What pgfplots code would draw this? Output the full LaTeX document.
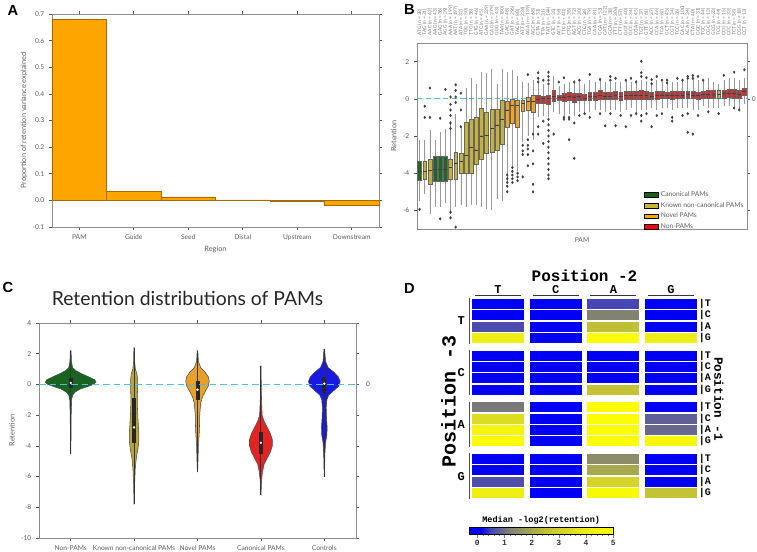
\documentclass[border=0pt]{standalone}
\usepackage{pgfplots}
\pgfplotsset{compat=1.18}
\usepgfplotslibrary{statistics}
\usepackage{fontspec}
\setmainfont{Lato}
\newfontfamily\cour{Liberation Mono}
\newfontfamily\arial{Liberation Sans}
\definecolor{spine}{RGB}{140,140,140}
\definecolor{txt}{RGB}{95,95,95}
\definecolor{barorange}{RGB}{255,165,0}
\definecolor{cgreen}{RGB}{32,102,40}
\definecolor{colive}{RGB}{196,178,62}
\definecolor{corange}{RGB}{238,162,38}
\definecolor{cred}{RGB}{212,44,44}
\definecolor{lgreen}{RGB}{20,100,30}
\definecolor{lolive}{RGB}{200,180,50}
\definecolor{lorange}{RGB}{255,165,0}
\definecolor{lred}{RGB}{255,0,0}
\definecolor{zeroline}{RGB}{80,190,230}
\definecolor{vgreen}{RGB}{25,100,32}
\definecolor{volive}{RGB}{185,165,55}
\definecolor{vorange}{RGB}{232,160,40}
\definecolor{vred}{RGB}{228,35,35}
\definecolor{vblue}{RGB}{25,25,228}
\pgfdeclareplotmark{cell}{\pgfpathrectangle{\pgfpoint{-19.5pt}{-3.75pt}}{\pgfpoint{39pt}{7.5pt}}\pgfusepathqfill}
\pgfplotsset{
  panel/.style={scale only axis, anchor=south west, clip=false,
    axis line style={spine, line width=0.6pt},
    tick style={black!65, line width=0.4pt}, tick align=outside,
    major tick length=2.2pt,
    tick label style={font=\fontsize{5}{6}\selectfont, text=txt},
    label style={font=\fontsize{5.5}{6.5}\selectfont, text=txt},
    /pgf/number format/assume math mode=true},
}
\newcommand{\bx}[7]{\addplot[forget plot, fill=#7, draw=black!60, line width=0.3pt,
  boxplot/draw direction=y,
  boxplot prepared={draw position=#1, lower whisker=#2, lower quartile=#3, median=#4,
  upper quartile=#5, upper whisker=#6, box extend=0.75, whisker extend=0},
  boxplot/every whisker/.style={black!40, line width=0.45pt},
  boxplot/every median/.style={black!75, line width=0.4pt}] coordinates {};}
\newcommand{\dfont}[1]{\cour\bfseries\fontsize{#1}{#1}\selectfont}
\begin{document}
\begin{tikzpicture}
\useasboundingbox (0,0) rectangle (567.75pt,414pt);
% ---------------- A ----------------
\begin{axis}[panel, at={(39pt,243.75pt)}, width=245.25pt, height=159.75pt,
  xmin=-0.5, xmax=5.5, ymin=-0.1, ymax=0.7,
  ytick={-0.1,0,0.1,0.2,0.3,0.4,0.5,0.6,0.7},
  yticklabel style={/pgf/number format/.cd, fixed, fixed zerofill, precision=1},
  xtick={0,...,5}, xticklabels={PAM,Guide,Seed,Distal,Upstream,Downstream},
  xlabel={Region}, ylabel={Proportion of retention variance explained},
  xlabel style={yshift=3pt}, ylabel style={yshift=-3pt}]
\addplot[ybar, bar width=1, fill=barorange, draw=black!35!barorange, line width=0.3pt]
  coordinates {(0,0.68)(1,0.035)(2,0.013)(3,0.002)(4,-0.002)(5,-0.017)};
\end{axis}
% ---------------- B ----------------
\begin{axis}[panel, at={(312.75pt,242.25pt)}, width=247.5pt, height=139.5pt,
  xmin=-0.5, xmax=63.5, ymin=-7, ymax=3, ytick={-6,-4,-2,0,2},
  xtick={0,...,63}, xticklabel pos=upper, major x tick style={draw=none},
  xticklabel style={rotate=90, anchor=west, font=\fontsize{3.6}{4}\selectfont, text=txt!85},
  xticklabels={ATG (n = 38), TAG (n = 21), AAC (n = 42), AAG (n = 43), GAG (n = 36), AGG (n = 39), AAA (n = 199), AAT (n = 197), ATA (n = 32), TGG (n = 50), TTG (n = 38), GTG (n = 46), ATC (n = 45), GAA (n = 239), CAG (n = 279), GGG (n = 43), TAA (n = 180), GAC (n = 48), GAT (n = 296), TAC (n = 80), ATT (n = 236), AGA (n = 139), AGC (n = 68), GTA (n = 31), TTA (n = 31), TAT (n = 144), GTC (n = 35), ACT (n = 56), TTC (n = 40), CTG (n = 38), AGT (n = 72), ACG (n = 30), CTC (n = 26), TGA (n = 79), CAA (n = 81), GGA (n = 53), CAT (n = 122), GCA (n = 38), TTT (n = 306), CTT (n = 57), GGT (n = 40), GCC (n = 34), CGA (n = 45), TGT (n = 37), GTT (n = 61), ACC (n = 27), CCA (n = 46), TCA (n = 62), GCT (n = 45), CGT (n = 34), TCC (n = 36), CAC (n = 100), ACA (n = 34), CTA (n = 40), GGC (n = 31), TGC (n = 44), CGC (n = 13), GCG (n = 33), TCG (n = 44), CCG (n = 15), CCC (n = 33), TCT (n = 58), CGG (n = 18), CCT (n = 13)},
  ylabel={Retention}, ylabel style={yshift=-2pt},
  legend image code/.code={\fill[#1] (0pt,-1.8pt) rectangle (10pt,1.8pt);},
  legend style={draw=none, fill=none, at={(0.676,0.231)}, anchor=north west,
    font=\fontsize{5}{6}\selectfont, text=txt, row sep=-1.2pt},
  legend cell align=left]
\addplot[forget plot, zeroline, line width=1pt, dash pattern=on 4pt off 2.5pt] coordinates {(-0.5,0)(63.5,0)};
\bx{0}{-5.5}{-4.37}{-3.9}{-3.36}{-2.2}{cgreen}
\bx{1}{-5.1}{-4.3}{-3.9}{-3.36}{-2.2}{colive}
\bx{2}{-6.2}{-4.6}{-3.86}{-3.24}{-1.67}{colive}
\bx{3}{-5.8}{-4.45}{-3.8}{-3.1}{-2.2}{cgreen}
\bx{4}{-5.8}{-4.45}{-3.8}{-3.1}{-1.8}{cgreen}
\bx{5}{-5.6}{-4.45}{-3.8}{-3.1}{-1.6}{cgreen}
\bx{6}{-6.1}{-4.3}{-3.7}{-3.24}{-1.2}{colive}
\bx{7}{-5.8}{-4.3}{-3.45}{-2.85}{-0.8}{colive}
\bx{8}{-5.7}{-4.0}{-3.35}{-2.95}{-1.5}{colive}
\bx{9}{-5.8}{-4.0}{-3.05}{-1.25}{0.6}{colive}
\bx{10}{-5.7}{-4.0}{-2.6}{-1.1}{1.1}{colive}
\bx{11}{-5.7}{-3.5}{-2.75}{-1.0}{0.8}{colive}
\bx{12}{-5.8}{-3.25}{-2.0}{-0.5}{1.45}{colive}
\bx{13}{-5.9}{-2.9}{-1.95}{-0.7}{1.4}{colive}
\bx{14}{-6.0}{-2.85}{-1.6}{-0.55}{1.6}{colive}
\bx{15}{-5.4}{-2.75}{-1.4}{-0.55}{0.8}{colive}
\bx{16}{-5.5}{-2.45}{-1.1}{-0.1}{1.6}{colive}
\bx{17}{-4.5}{-1.55}{-0.6}{-0.15}{1.45}{corange}
\bx{18}{-3.7}{-1.3}{-0.35}{0.0}{1.55}{corange}
\bx{19}{-3.9}{-1.55}{-0.35}{-0.05}{1.25}{corange}
\bx{20}{-2.3}{-0.65}{-0.25}{-0.05}{0.9}{corange}
\bx{21}{-2.0}{-0.6}{-0.15}{0.07}{0.85}{corange}
\bx{22}{-2.2}{-0.7}{-0.12}{0.2}{1.0}{corange}
\bx{23}{-1.0}{-0.25}{0.0}{0.2}{1.0}{cred}
\bx{24}{-0.9}{-0.25}{0.05}{0.15}{0.8}{cred}
\bx{25}{-1.0}{-0.3}{0.05}{0.2}{0.7}{cred}
\bx{26}{-0.7}{-0.15}{0.15}{0.45}{1.2}{cred}
\bx{27}{-0.8}{-0.1}{0.1}{0.2}{0.7}{cred}
\bx{28}{-0.9}{-0.15}{0.1}{0.3}{0.8}{cred}
\bx{29}{-0.8}{-0.1}{0.15}{0.35}{0.9}{cred}
\bx{30}{-0.9}{-0.2}{0.1}{0.3}{0.9}{cred}
\bx{31}{-0.7}{-0.1}{0.12}{0.3}{1.0}{cred}
\bx{32}{-0.7}{-0.1}{0.05}{0.25}{0.8}{cred}
\bx{33}{-0.7}{-0.05}{0.15}{0.35}{1.0}{cred}
\bx{34}{-0.6}{-0.05}{0.15}{0.35}{0.9}{cred}
\bx{35}{-0.6}{0.0}{0.2}{0.45}{1.0}{cred}
\bx{36}{-0.7}{0.0}{0.15}{0.35}{0.9}{cred}
\bx{37}{-0.6}{0.0}{0.15}{0.35}{0.9}{cred}
\bx{38}{-0.6}{0.0}{0.2}{0.4}{0.9}{cred}
\bx{39}{-0.7}{-0.05}{0.15}{0.35}{0.9}{cred}
\bx{40}{-0.6}{0.0}{0.2}{0.4}{1.0}{cred}
\bx{41}{-0.5}{0.0}{0.2}{0.4}{0.9}{cred}
\bx{42}{-0.7}{0.0}{0.2}{0.4}{1.0}{cred}
\bx{43}{-0.6}{0.0}{0.2}{0.45}{1.0}{cred}
\bx{44}{-0.6}{0.0}{0.2}{0.4}{0.95}{cred}
\bx{45}{-0.5}{0.0}{0.15}{0.35}{0.9}{cred}
\bx{46}{-0.6}{0.0}{0.2}{0.4}{1.0}{cred}
\bx{47}{-0.5}{0.05}{0.2}{0.4}{0.9}{cred}
\bx{48}{-0.5}{0.05}{0.2}{0.35}{0.9}{cred}
\bx{49}{-0.6}{0.0}{0.2}{0.4}{0.9}{cred}
\bx{50}{-0.5}{0.05}{0.2}{0.4}{0.9}{cred}
\bx{51}{-0.5}{0.05}{0.2}{0.4}{0.95}{cred}
\bx{52}{-0.5}{0.05}{0.25}{0.4}{1.0}{cred}
\bx{53}{-0.6}{0.05}{0.2}{0.4}{1.1}{cred}
\bx{54}{-0.6}{0.0}{0.2}{0.35}{1.0}{cred}
\bx{55}{-0.4}{0.05}{0.25}{0.4}{1.0}{cred}
\bx{56}{-0.5}{0.05}{0.25}{0.45}{1.1}{cred}
\bx{57}{-0.5}{0.05}{0.25}{0.45}{0.9}{cred}
\bx{58}{-0.5}{0.05}{0.25}{0.45}{0.8}{colive}
\bx{59}{-0.4}{0.05}{0.3}{0.45}{1.0}{cred}
\bx{60}{-0.4}{0.1}{0.3}{0.5}{1.1}{cred}
\bx{61}{-0.5}{0.05}{0.3}{0.5}{1.1}{cred}
\bx{62}{-0.6}{0.05}{0.25}{0.45}{1.0}{cred}
\bx{63}{-0.3}{0.2}{0.4}{0.55}{1.1}{cred}
\addplot[forget plot, only marks, mark=diamond*, mark size=0.9pt, black!75] coordinates {
(0,-5.94)(1,-0.4)(1,-1.0)(2,0.58)(2,-1.0)(4,-1.05)(4,-6.45)(5,0.5)
(6,0.1)(6,-0.3)(6,-0.6)(6,-0.9)(6,-1.3)(6,-1.6)(6,-6.1)(6,-6.4)
(7,0.75)(7,0.45)(7,0.1)(7,-0.2)(7,-6.9)(8,0.3)(8,-0.6)(8,-1.5)
(17,-4.1)(17,-4.3)(17,-4.5)(17,-4.7)(17,-5.0)
(18,-3.7)(18,-3.9)(18,-4.1)(18,-4.3)(18,-4.5)
(19,-4.0)(19,-4.2)(19,-4.4)
(20,-2.5)(20,-2.8)(20,-3.0)(20,-4.2)
(21,-2.2)(21,-2.5)(21,-2.7)(21,-3.0)(21,-3.6)(21,1.3)
(22,-1.9)(22,-2.8)(22,-3.5)(22,-4.6)(22,-5.0)
(23,1.4)(23,1.1)(23,0.9)(23,-1.5)(23,-1.9)
(24,1.0)(24,-1.2)(24,-2.4)
(25,1.43)(25,1.2)(25,1.0)(25,0.8)(25,-1.1)(25,-1.4)(25,-1.7)(25,-2.0)(25,-2.3)(25,-2.6)(25,-2.9)(25,-3.2)(25,-3.5)(25,-3.8)(25,-4.1)(25,-4.3)
(26,-1.9)(27,0.9)(28,1.13)(28,-1.0)(28,-1.1)(29,-1.0)(29,-1.1)(29,-2.2)
(30,0.9)(30,-1.3)(30,-3.2)(31,1.0)(31,-0.9)(32,-0.8)(33,1.31)(33,-1.0)
(35,1.04)(35,-0.8)(36,-1.45)(37,1.2)(37,1.0)(37,-0.8)(38,1.1)(38,-1.45)
(39,-0.9)(40,1.0)(40,-1.5)(41,1.1)(41,-0.9)(42,0.9)(42,-0.8)
(43,2.02)(43,1.4)(43,1.2)(43,-1.2)(43,-0.9)(44,1.13)(44,-0.8)
(45,1.03)(45,0.8)(45,-1.5)(46,1.2)(46,-0.9)(47,1.0)(47,-0.8)(48,1.0)(48,0.85)
(49,-1.2)(49,-1.0)(50,1.1)(51,1.0)(51,-0.9)(52,1.2)(52,1.1)(52,-0.8)(52,-1.8)
(53,1.25)(53,1.1)(53,-1.9)(54,1.2)(54,-0.9)(55,1.0)(56,-0.7)(58,-0.8)
(59,1.26)(61,1.43)(61,-0.5)(62,-0.6)(63,1.56)};
\node[font=\fontsize{5}{6}\selectfont, text=txt, anchor=north] at (rel axis cs:0.5,0) [yshift=-3pt] {PAM};
\node[font=\fontsize{5}{6}\selectfont, text=txt, anchor=west, inner sep=0pt] at (axis cs:63.5,0) [xshift=3.5pt] {0};
\addlegendimage{fill=lgreen}\addlegendentry{Canonical PAMs}
\addlegendimage{fill=lolive}\addlegendentry{Known non-canonical PAMs}
\addlegendimage{fill=lorange}\addlegendentry{Novel PAMs}
\addlegendimage{fill=lred}\addlegendentry{Non-PAMs}
\end{axis}
% ---------------- C ----------------
\begin{axis}[panel, at={(29.25pt,10.5pt)}, width=237.75pt, height=161.25pt,
  xmin=-0.5, xmax=4.5, ymin=-10, ymax=4, ytick={-10,-8,-6,-4,-2,0,2,4},
  xtick={0,...,4}, xticklabels={Non-PAMs, Known non-canonical PAMs, Novel PAMs, Canonical PAMs, Controls},
  ylabel={Retention}, ylabel style={yshift=-2pt}]
\addplot[fill=vgreen, draw=black!70, line width=0.4pt] coordinates {
(0.002,-4.5)(0.005,-3.5)(0.008,-2)(0.015,-1)(0.03,-0.7)(0.07,-0.5)(0.15,-0.3)(0.26,-0.15)(0.36,0)(0.40,0.15)(0.38,0.3)(0.28,0.5)(0.17,0.7)(0.08,0.9)(0.03,1.1)(0.012,1.5)(0.006,2.2)
(-0.006,2.2)(-0.012,1.5)(-0.03,1.1)(-0.08,0.9)(-0.17,0.7)(-0.28,0.5)(-0.38,0.3)(-0.40,0.15)(-0.36,0)(-0.26,-0.15)(-0.15,-0.3)(-0.07,-0.5)(-0.03,-0.7)(-0.015,-1)(-0.008,-2)(-0.005,-3.5)(-0.002,-4.5)} -- cycle;
\addplot[fill=volive, draw=black!70, line width=0.4pt] coordinates {
(1.002,-7.8)(1.008,-6.5)(1.018,-5.5)(1.035,-4.8)(1.06,-4.2)(1.075,-3.7)(1.075,-3.2)(1.065,-2.5)(1.055,-1.8)(1.05,-1.0)(1.055,-0.3)(1.055,0.3)(1.045,0.7)(1.02,1.0)(1.008,1.5)(1.004,2.4)
(0.996,2.4)(0.992,1.5)(0.98,1.0)(0.955,0.7)(0.945,0.3)(0.945,-0.3)(0.95,-1.0)(0.945,-1.8)(0.935,-2.5)(0.925,-3.2)(0.925,-3.7)(0.94,-4.2)(0.965,-4.8)(0.982,-5.5)(0.992,-6.5)(0.998,-7.8)} -- cycle;
\addplot[fill=vorange, draw=black!70, line width=0.4pt] coordinates {
(2.002,-5.7)(2.008,-5)(2.015,-4)(2.03,-3)(2.035,-2)(2.05,-1.2)(2.08,-0.8)(2.13,-0.4)(2.17,-0.1)(2.185,0.2)(2.17,0.5)(2.12,0.8)(2.05,1.1)(2.015,1.5)(2.005,2.2)
(1.995,2.2)(1.985,1.5)(1.95,1.1)(1.88,0.8)(1.83,0.5)(1.815,0.2)(1.83,-0.1)(1.87,-0.4)(1.92,-0.8)(1.95,-1.2)(1.965,-2)(1.97,-3)(1.985,-4)(1.992,-5)(1.998,-5.7)} -- cycle;
\addplot[fill=vred, draw=black!70, line width=0.4pt] coordinates {
(3.002,-7.2)(3.01,-6.3)(3.025,-5.7)(3.05,-5.2)(3.10,-4.8)(3.15,-4.4)(3.18,-4.0)(3.18,-3.6)(3.15,-3.2)(3.10,-2.8)(3.05,-2.4)(3.02,-2.0)(3.01,-1.0)(3.006,0)(3.003,1.2)
(2.997,1.2)(2.994,0)(2.99,-1)(2.98,-2)(2.95,-2.4)(2.90,-2.8)(2.85,-3.2)(2.82,-3.6)(2.82,-4.0)(2.85,-4.4)(2.90,-4.8)(2.95,-5.2)(2.975,-5.7)(2.99,-6.3)(2.998,-7.2)} -- cycle;
\addplot[fill=vblue, draw=black!70, line width=0.4pt] coordinates {
(4.002,-6)(4.01,-4.5)(4.02,-3.8)(4.04,-3.3)(4.045,-2.8)(4.035,-2.2)(4.03,-1.5)(4.04,-1.0)(4.07,-0.7)(4.15,-0.4)(4.23,-0.1)(4.25,0.2)(4.22,0.5)(4.15,0.8)(4.06,1.1)(4.02,1.5)(4.005,2.3)
(3.995,2.3)(3.98,1.5)(3.94,1.1)(3.85,0.8)(3.78,0.5)(3.75,0.2)(3.77,-0.1)(3.85,-0.4)(3.93,-0.7)(3.96,-1.0)(3.97,-1.5)(3.965,-2.2)(3.955,-2.8)(3.96,-3.3)(3.98,-3.8)(3.99,-4.5)(3.998,-6)} -- cycle;
\addplot[black!80, line width=0.7pt] coordinates {(0,-4.5)(0,2.2)};
\addplot[black!80, line width=0.7pt] coordinates {(1,-7.8)(1,2.4)};
\addplot[black!80, line width=0.7pt] coordinates {(2,-5.7)(2,2.2)};
\addplot[black!80, line width=0.7pt] coordinates {(3,-7.2)(3,1.2)};
\addplot[black!80, line width=0.7pt] coordinates {(4,-6.0)(4,2.3)};
\addplot[black!85, line width=3pt] coordinates {(0,-0.25)(0,0.4)};
\addplot[black!85, line width=3pt] coordinates {(1,-3.8)(1,-0.9)};
\addplot[black!85, line width=3pt] coordinates {(2,-1.0)(2,0.2)};
\addplot[black!85, line width=3pt] coordinates {(3,-4.5)(3,-3.1)};
\addplot[black!85, line width=3pt] coordinates {(4,-0.55)(4,0.5)};
\addplot[only marks, mark=*, mark size=0.7pt, white] coordinates {(0,0.1)(1,-2.8)(2,-0.35)(3,-3.8)(4,0.05)};
\addplot[zeroline, line width=1pt, dash pattern=on 5pt off 3pt] coordinates {(-0.5,0)(4.5,0)};
\node[font=\fontsize{5}{6}\selectfont, text=txt, anchor=west] at (axis cs:4.5,0) [xshift=4pt] {0};
\end{axis}
% ---------------- D ----------------
\begin{axis}[at={(351.9pt,40pt)}, anchor=south west, scale only axis, width=173pt, height=150.2pt,
  xmin=-0.5, xmax=3.5, ymin=-0.5, ymax=17.225, y dir=reverse, axis lines=none, clip=false,
  xtick=\empty, ytick=\empty,
  colormap={hm}{rgb255(0pt)=(0,0,245); rgb255(4pt)=(0,0,245); rgb255(8pt)=(70,70,180); rgb255(15pt)=(130,130,115); rgb255(28pt)=(192,192,55); rgb255(43pt)=(238,238,22); rgb255(53pt)=(255,255,0)},
  point meta min=-0.3, point meta max=5,
  colorbar horizontal,
  colorbar style={at={(parent axis.south west)}, anchor=north west, yshift=-13pt,
    scale only axis, width=108pt, height=5.25pt, axis lines=box, axis line style={black, line width=0.5pt},
    xtick={0,1,2,3,4,5}, minor x tick num=4, ytick=\empty, tick align=outside,
    major tick length=2.5pt, minor tick length=1.5pt, xtick pos=left,
    /pgf/number format/assume math mode=true,
    xticklabel style={font=\dfont{6}, text=black!80, yshift=1.5pt},
    title={Median -log2(retention)},
    title style={font=\dfont{6.4}, yshift=-7pt}}]
\addplot[scatter, only marks, mark=cell, point meta=explicit,
  scatter/use mapped color={draw=none, fill=mapped color}] table[meta=v] {
x y v
0 0 0
0 1 0
0 2 0.55
0 3 4.0
1 0 0
1 1 0
1 2 0
1 3 0
2 0 0.5
2 1 1.2
2 2 2.5
2 3 4.8
3 0 0
3 1 0
3 2 0
3 3 4.0
0 4.575 0
0 5.575 0
0 6.575 0
0 7.575 0
1 4.575 0
1 5.575 0
1 6.575 0
1 7.575 0
2 4.575 0
2 5.575 0
2 6.575 0
2 7.575 2.6
3 4.575 0
3 5.575 0
3 6.575 0
3 7.575 0
0 9.15 1.1
0 10.15 3.4
0 11.15 4.5
0 12.15 4.8
1 9.15 0
1 10.15 0
1 11.15 0
1 12.15 0
2 9.15 4.8
2 10.15 4.8
2 11.15 4.8
2 12.15 4.8
3 9.15 0
3 10.15 0.8
3 11.15 0.9
3 12.15 4.5
0 13.725 0
0 14.725 0
0 15.725 0.6
0 16.725 4.0
1 13.725 0
1 14.725 0
1 15.725 0
1 16.725 0
2 13.725 1.4
2 14.725 2.0
2 15.725 3.2
2 16.725 4.6
3 13.725 0
3 14.725 0
3 15.725 0
3 16.725 2.6
};
\node[font=\dfont{12}] at (axis cs:1.5,-2.5) {Position -2};
\node[font=\dfont{9}] at (axis cs:0,-1.3) {T};
\node[font=\dfont{9}] at (axis cs:1,-1.3) {C};
\node[font=\dfont{9}] at (axis cs:2,-1.3) {A};
\node[font=\dfont{9}] at (axis cs:3,-1.3) {G};
\draw[line width=0.9pt, black!80] (axis cs:-0.4,-0.73) -- (axis cs:0.4,-0.73);
\draw[line width=0.9pt, black!80] (axis cs:0.6,-0.73) -- (axis cs:1.4,-0.73);
\draw[line width=0.9pt, black!80] (axis cs:1.6,-0.73) -- (axis cs:2.4,-0.73);
\draw[line width=0.9pt, black!80] (axis cs:2.6,-0.73) -- (axis cs:3.4,-0.73);
\node[font=\dfont{9}] at (axis cs:-0.64,1.5) {T};
\node[font=\dfont{9}] at (axis cs:-0.64,6.075) {C};
\node[font=\dfont{9}] at (axis cs:-0.64,10.65) {A};
\node[font=\dfont{9}] at (axis cs:-0.64,15.225) {G};
\draw[line width=0.9pt, black!70] (axis cs:-0.5,-0.5) -- (axis cs:-0.5,3.5);
\draw[line width=0.9pt, black!70] (axis cs:-0.5,4.075) -- (axis cs:-0.5,8.075);
\draw[line width=0.9pt, black!70] (axis cs:-0.5,8.65) -- (axis cs:-0.5,12.65);
\draw[line width=0.9pt, black!70] (axis cs:-0.5,13.225) -- (axis cs:-0.5,17.225);
\node[font=\dfont{7.5}, anchor=west, inner sep=0pt] at (axis cs:3.48,0) {|T};
\node[font=\dfont{7.5}, anchor=west, inner sep=0pt] at (axis cs:3.48,1) {|C};
\node[font=\dfont{7.5}, anchor=west, inner sep=0pt] at (axis cs:3.48,2) {|A};
\node[font=\dfont{7.5}, anchor=west, inner sep=0pt] at (axis cs:3.48,3) {|G};
\node[font=\dfont{7.5}, anchor=west, inner sep=0pt] at (axis cs:3.48,4.575) {|T};
\node[font=\dfont{7.5}, anchor=west, inner sep=0pt] at (axis cs:3.48,5.575) {|C};
\node[font=\dfont{7.5}, anchor=west, inner sep=0pt] at (axis cs:3.48,6.575) {|A};
\node[font=\dfont{7.5}, anchor=west, inner sep=0pt] at (axis cs:3.48,7.575) {|G};
\node[font=\dfont{7.5}, anchor=west, inner sep=0pt] at (axis cs:3.48,9.15) {|T};
\node[font=\dfont{7.5}, anchor=west, inner sep=0pt] at (axis cs:3.48,10.15) {|C};
\node[font=\dfont{7.5}, anchor=west, inner sep=0pt] at (axis cs:3.48,11.15) {|A};
\node[font=\dfont{7.5}, anchor=west, inner sep=0pt] at (axis cs:3.48,12.15) {|G};
\node[font=\dfont{7.5}, anchor=west, inner sep=0pt] at (axis cs:3.48,13.725) {|T};
\node[font=\dfont{7.5}, anchor=west, inner sep=0pt] at (axis cs:3.48,14.725) {|C};
\node[font=\dfont{7.5}, anchor=west, inner sep=0pt] at (axis cs:3.48,15.725) {|A};
\node[font=\dfont{7.5}, anchor=west, inner sep=0pt] at (axis cs:3.48,16.725) {|G};
\node[font=\dfont{15}, rotate=90] at (axis cs:-0.86,8.6) {Position -3};
\node[font=\dfont{9.5}, rotate=-90] at (axis cs:3.83,8.4) {Position -1};
\end{axis}
\node[font=\arial\bfseries\fontsize{11}{11}\selectfont] at (9.75pt,406.5pt) {A};
\node[font=\arial\bfseries\fontsize{11}{11}\selectfont] at (307.1pt,407.25pt) {B};
\node[font=\arial\bfseries\fontsize{11}{11}\selectfont] at (6pt,198.75pt) {C};
\node[font=\arial\bfseries\fontsize{11}{11}\selectfont] at (307.1pt,198pt) {D};
\node[font=\fontsize{14.5}{14.5}\selectfont, text=black!85] at (140.6pt,190.5pt) {Retention distributions of PAMs};
\end{tikzpicture}
\end{document}
